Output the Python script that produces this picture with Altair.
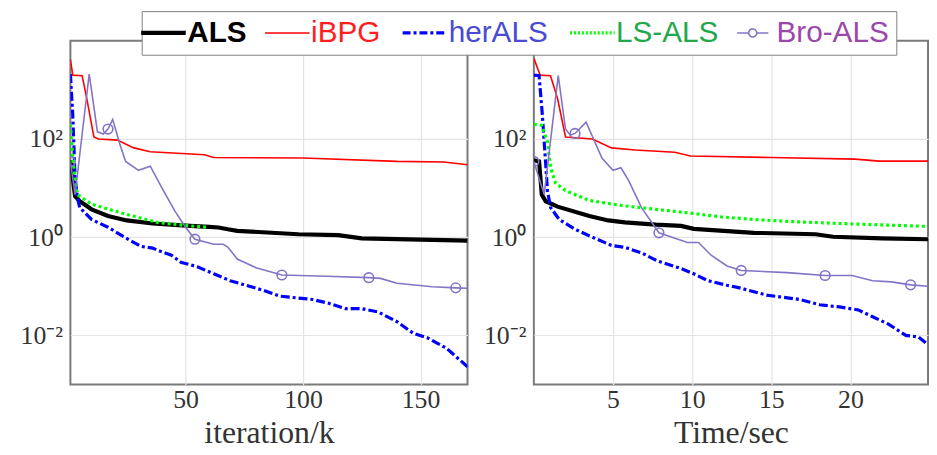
import altair as alt
import pandas as pd

series_names = ["ALS", "iBPG", "herALS", "LS-ALS", "Bro-ALS"]
line_colors = ["#000000", "#ff0000", "#0000ff", "#00ff00", "#8473c6"]
label_colors = ["#000000", "#ff1e1e", "#4a4ad4", "#22a84a", "#9b47ab"]

# ---- left panel: iteration k ----
als_k = [1, 2, 3, 5, 10, 17, 25, 36, 52, 60, 64, 68, 72, 98, 115, 125, 150, 170]
als_kv = [37, 16, 6.8, 5.4, 3.7, 2.7, 2.2, 1.9, 1.7, 1.62, 1.58, 1.45, 1.35, 1.15, 1.1, 0.95, 0.89, 0.85]

ibpg_k = [1, 2, 6, 8, 11, 13, 21, 28, 35, 58, 62, 100, 140, 160, 170]
ibpg_kv = [4200, 2000, 1950, 660, 110, 100, 95, 66, 55, 48, 42, 41, 35, 34, 30]

her_k = [1, 2, 3, 4, 5, 10, 17, 24, 31, 36, 40, 44, 48, 55, 62, 69, 83, 90, 104,
         111, 118, 125, 132, 140, 147, 153, 161, 170]
her_kv = [2100, 320, 16, 6.3, 4.0, 2.3, 1.6, 1.0, 0.65, 0.6, 0.5, 0.43, 0.31, 0.25,
          0.18, 0.13, 0.083, 0.063, 0.054, 0.045, 0.035, 0.035, 0.030, 0.019, 0.011,
          0.0089, 0.0055, 0.0023]

ls_k = [1, 2, 3, 4, 10, 24, 38, 52, 59]
ls_kv = [200, 40, 16, 7.4, 4.7, 3.0, 2.0, 1.7, 1.6]

bro_k = [1, 3, 5, 7, 9, 11, 12.5, 15, 17, 19, 22, 24.5, 30, 35, 40, 45.5, 50, 54, 62,
         66, 68, 72, 80, 91, 110, 128, 133, 140, 155, 165, 170]
bro_kv = [35, 7.4, 49, 320, 2100, 450, 140, 126, 160, 250, 80, 35, 23, 28, 10, 3.4,
          1.6, 0.91, 0.72, 0.72, 0.63, 0.36, 0.24, 0.17, 0.16, 0.15, 0.145, 0.115,
          0.098, 0.093, 0.091]
bro_mark_k = [1, 17, 54, 91, 128, 165]
bro_mark_kv = [35, 160, 0.91, 0.17, 0.15, 0.093]

# ---- right panel: time in seconds ----
als_t = [0, 0.33, 0.5, 0.75, 1.5, 3.5, 4.7, 5.75, 7.7, 9.3, 10.1, 13.9, 17.8, 18.9, 22, 24.9]
als_tv = [37, 35, 7.4, 5.4, 4.2, 2.7, 2.2, 2.0, 1.8, 1.7, 1.48, 1.23, 1.15, 1.02, 0.95, 0.91]

ibpg_t = [0, 0.4, 1.05, 1.5, 2.0, 3.7, 4.9, 6.4, 8.9, 9.9, 15, 20.3, 21.8, 24.9]
ibpg_tv = [4400, 2000, 1950, 660, 110, 100, 66, 60, 54, 45, 42, 39, 35.5, 35.5]

her_t = [0, 0.33, 0.54, 0.75, 0.86, 1.06, 1.6, 2.6, 3.7, 4.9, 5.75, 6.8, 7.8, 9.3, 10.1,
         11.0, 12.2, 13.0, 14.7, 16.8, 18.05, 19.3, 20.5, 21.4, 22.4, 23.5, 24.3, 24.9]
her_tv = [2000, 1950, 300, 30, 8.7, 4.0, 2.3, 1.45, 1.0, 0.68, 0.62, 0.48, 0.33, 0.23,
          0.18, 0.13, 0.105, 0.093, 0.066, 0.054, 0.042, 0.038, 0.033, 0.024, 0.017,
          0.010, 0.0093, 0.0065]

ls_t = [0, 0.5, 0.86, 1.06, 1.37, 2.0, 3.5, 5.6, 7.7, 9.5, 11.8, 13.9, 16, 19.3, 22, 24.9]
ls_tv = [200, 190, 87, 26, 12.6, 8.9, 5.6, 4.4, 3.7, 3.2, 2.6, 2.3, 2.1, 1.9, 1.78, 1.66]

bro_t = [0, 0.65, 1.54, 2.0, 2.3, 2.6, 3.3, 4.3, 5.0, 5.5, 6.0, 6.8, 7.9, 9.7, 10.4,
         11.2, 12.2, 13.1, 16, 18.4, 20.1, 21.4, 22.6, 23.8, 24.9]
bro_tv = [35, 7.4, 1950, 160, 120, 130, 220, 41, 23, 26, 14, 4.0, 1.23, 0.78, 0.78,
          0.43, 0.26, 0.21, 0.19, 0.166, 0.166, 0.13, 0.123, 0.107, 0.10]
bro_mark_t = [0, 2.6, 7.9, 13.1, 18.4, 23.8]
bro_mark_tv = [35, 130, 1.23, 0.21, 0.166, 0.107]

y_ticks = [0.01, 1, 100]
x_ticks_iter = [50, 100, 150]
x_ticks_time = [5, 10, 15, 20]


def frame(xs, vs, name):
    return pd.DataFrame({"x": xs, "value": vs, "series": name})


iter_df = {
    "ALS": frame(als_k, als_kv, "ALS"),
    "iBPG": frame(ibpg_k, ibpg_kv, "iBPG"),
    "herALS": frame(her_k, her_kv, "herALS"),
    "LS-ALS": frame(ls_k, ls_kv, "LS-ALS"),
    "Bro-ALS": frame(bro_k, bro_kv, "Bro-ALS"),
}
time_df = {
    "ALS": frame(als_t, als_tv, "ALS"),
    "iBPG": frame(ibpg_t, ibpg_tv, "iBPG"),
    "herALS": frame(her_t, her_tv, "herALS"),
    "LS-ALS": frame(ls_t, ls_tv, "LS-ALS"),
    "Bro-ALS": frame(bro_t, bro_tv, "Bro-ALS"),
}
iter_marks = frame(bro_mark_k, bro_mark_kv, "Bro-ALS")
time_marks = frame(bro_mark_t, bro_mark_tv, "Bro-ALS")

styles = {
    "ALS": dict(strokeWidth=4.2),
    "iBPG": dict(strokeWidth=1.6),
    "herALS": dict(strokeWidth=3.2, strokeDash=[9, 3, 3, 3]),
    "LS-ALS": dict(strokeWidth=3.2, strokeDash=[3, 3]),
    "Bro-ALS": dict(strokeWidth=1.6),
}


def pick(expr_map, default):
    s = default
    for k, v in reversed(list(expr_map.items())):
        s = f"datum.value === '{k}' ? {v} : ({s})"
    return s


label_fill_expr = pick({n: f"'{c}'" for n, c in zip(series_names, label_colors)}, "'#000'")
bro_path = ("M-0.7,0L-0.18,0M0.18,0L0.7,0M-0.18,0A0.18,0.18 0 1,1 0.18,0"
            "A0.18,0.18 0 1,1 -0.18,0")

legend = alt.Legend(
    title=None,
    orient="none",
    legendX=72,
    legendY=-30,
    direction="horizontal",
    columns=5,
    symbolType={"expr": pick({"Bro-ALS": f"'{bro_path}'"}, "'stroke'")},
    symbolSize=2025,
    symbolStrokeWidth={"expr": pick({"ALS": 4.2, "herALS": 3.2, "LS-ALS": 3.2}, 1.6)},
    symbolDash={"expr": pick({"herALS": "[8,3,3,3]", "LS-ALS": "[2,2]"}, "[1,0]")},
    symbolFillColor="transparent",
    symbolOpacity=1,
    labelFont="Liberation Sans",
    labelFontSize=30,
    labelColor={"expr": label_fill_expr},
    labelFontWeight={"expr": pick({"ALS": "'bold'"}, "'normal'")},
    labelOffset=9,
    labelLimit=300,
    columnPadding=15,
    padding=7,
    strokeColor="#808080",
    fillColor="white",
)

color_scale = alt.Scale(domain=series_names, range=line_colors)
y_label_expr = "datum.value > 10 ? '10²' : (datum.value > 0.1 ? '10⁰' : '10⁻²')"


def panel(dfs, marks, xdomain, xticks, xtitle, width):
    xaxis = alt.Axis(values=xticks, title=xtitle, grid=True, ticks=False, domain=False,
                     labelFont="Liberation Serif", labelFontSize=26, labelColor="#333333",
                     labelPadding=2, titleFont="Liberation Serif", titleFontSize=32,
                     titleFontWeight="normal", titleColor="#333333", titlePadding=6,
                     gridColor="#e4e4e4", gridWidth=1.2)
    yaxis = alt.Axis(values=y_ticks, labelExpr=y_label_expr, title=None, grid=True,
                     ticks=False, domain=False, labelFont="Liberation Serif",
                     labelFontSize=26, labelColor="#333333", labelPadding=8,
                     gridColor="#e4e4e4", gridWidth=1.2)
    xs = alt.Scale(domain=xdomain, nice=False, zero=False)
    ys = alt.Scale(type="log", domain=[1e-3, 1e4], nice=False)
    layers = []
    for name in series_names:
        layers.append(
            alt.Chart(dfs[name]).mark_line(clip=True, **styles[name]).encode(
                x=alt.X("x:Q", scale=xs, axis=xaxis),
                y=alt.Y("value:Q", scale=ys, axis=yaxis),
                color=alt.Color("series:N", scale=color_scale, legend=legend),
            )
        )
    layers.append(
        alt.Chart(marks).mark_point(shape="circle", filled=False, size=95, strokeWidth=1.6,
                                    color=line_colors[4], opacity=1, clip=True).encode(
            x=alt.X("x:Q", scale=xs, axis=xaxis),
            y=alt.Y("value:Q", scale=ys, axis=yaxis),
        )
    )
    return alt.layer(*layers).properties(width=width, height=347)


left = panel(iter_df, iter_marks, [1, 170], x_ticks_iter, "iteration/k", 401)
right = panel(time_df, time_marks, [0, 24.9], x_ticks_time, "Time/sec", 398)

chart = (
    alt.hconcat(left, right, spacing=14)
    .resolve_scale(color="shared")
    .resolve_legend(color="shared")
    .properties(padding={"left": 11, "top": 0, "right": 0, "bottom": 0})
    .configure_view(stroke="#7a7a7a", strokeWidth=2)
)

chart.save("out.html", embed_options={"renderer": "svg", "actions": False})
